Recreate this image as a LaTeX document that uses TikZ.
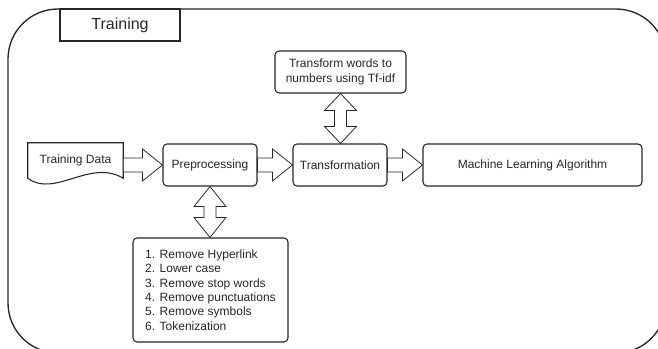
\documentclass[tikz,border=0pt]{standalone}
\usepackage{fontspec}
\setmainfont{Liberation Sans}
\usepackage{tikz}
\usetikzlibrary{calc}

% block arrow pointing right, from #1 to #2
\newcommand{\harrow}[2]{%
  \draw[blockarrow] ($(#1.east |- #2.west)+(0,7)$) -- ($(#2.west)+(-20,7)$)
    -- ($(#2.west)+(-20,16)$) -- (#2.west) -- ($(#2.west)+(-20,-16)$)
    -- ($(#2.west)+(-20,-7)$) -- ($(#1.east |- #2.west)+(0,-7)$) -- cycle;}
% double block arrow, #1 above #2
\newcommand{\varrow}[3]{%
  \draw[blockarrow] (#1.south) -- ($(#1.south)+(16,#3)$) -- ($(#1.south)+(6,#3)$)
    -- ($(#1.south |- #2.north)+(6,-#3)$) -- ($(#1.south |- #2.north)+(16,-#3)$)
    -- (#1.south |- #2.north) -- ($(#1.south |- #2.north)+(-16,-#3)$)
    -- ($(#1.south |- #2.north)+(-6,-#3)$) -- ($(#1.south)+(-6,#3)$)
    -- ($(#1.south)+(-16,#3)$) -- cycle;}

\begin{document}
\begin{tikzpicture}[x=0.75pt, y=-0.75pt,
    every node/.style={text=black!85, font=\fontsize{9}{10.8}\selectfont},
    box/.style={draw=black!85, rounded corners=3pt, line width=0.8pt, minimum height=31.5pt, inner sep=2pt},
    blockarrow/.style={draw=black!85, fill=white, line width=0.6pt}]

  \path[use as bounding box, clip] (0,0) rectangle (658,349);

  % outer frame and title
  \draw[black!85, line width=1pt, rounded corners=37.5pt] (8,9) rectangle (666,353);
  \node[draw=black!85, line width=0.8pt, minimum width=90pt, minimum height=24pt, font=\fontsize{12}{14}\selectfont] (title) at (120,25) {Training};

  % main row
  \node[minimum width=71.25pt, minimum height=26.25pt, inner sep=0pt] (data) at (75.5,160.5) {Training Data};
  \draw[black!85, line width=0.8pt] (data.south west) -- (data.north west) -- (data.north east) -- (data.south east)
    .. controls ($(data.south east)+(-33,-20)$) and ($(data.south west)+(27,20)$) .. (data.south west);
  \node[box, minimum width=70.5pt] (prep) at (210,165) {Preprocessing};
  \node[box, minimum width=70.5pt] (trans) at (340,165) {Transformation};
  \node[box, minimum width=164.25pt] (mla) at (532.5,165) {Machine Learning Algorithm};

  \node[box, minimum width=98.25pt, align=center] (tfidf) at (340.5,72) {Transform words to\\numbers using Tf-idf};
  \node[box, minimum width=116.25pt, minimum height=78pt, align=left] (steps) at (210.5,290)
    {1. Remove Hyperlink\\2. Lower case\\3. Remove stop words\\4. Remove punctuations\\5. Remove symbols\\6. Tokenization};

  \harrow{data}{prep}
  \harrow{prep}{trans}
  \harrow{trans}{mla}
  \varrow{tfidf}{trans}{17}
  \varrow{prep}{steps}{20}

\end{tikzpicture}
\end{document}
